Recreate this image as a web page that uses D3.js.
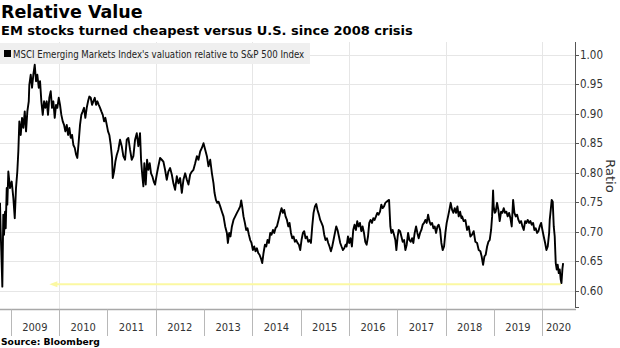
<!DOCTYPE html>
<html><head><meta charset="utf-8">
<script src="https://cdn.jsdelivr.net/npm/d3@7"></script>
<style>html,body{margin:0;padding:0;background:#fff}svg{display:block}</style>
</head><body>
<svg id="chart" width="620" height="348"></svg>
<script>
// ---------- text ----------
const titleText = "Relative Value";
const subtitleText = "EM stocks turned cheapest versus U.S. since 2008 crisis";
const seriesName = "MSCI Emerging Markets Index's valuation relative to S&P 500 Index";
const sourceText = "Source: Bloomberg";
const axisTitle = "Ratio";

// ---------- axes ----------
const yTicks = [0.60, 0.65, 0.70, 0.75, 0.80, 0.85, 0.90, 0.95, 1.00];
const yearLabels = [2009, 2010, 2011, 2012, 2013, 2014, 2015, 2016, 2017, 2018, 2019, 2020];
const gridYears = [2010, 2012, 2014, 2016, 2018, 2020];
const xDomain = [2008.778, 2020.68];
const yDomain = [0.5725, 1.0215];

// ---------- series (decimal year, ratio) ----------
const dates = [
2008.778,2008.792,2008.805,2008.826,2008.846,2008.861,2008.882,2008.896,2008.917,2008.929,2008.950,2008.985,
2009.020,2009.054,2009.083,2009.109,2009.136,2009.157,2009.178,2009.207,2009.234,2009.261,2009.290,2009.317,2009.344,2009.373,2009.385,2009.414,2009.441,2009.468,2009.497,2009.524,2009.551,2009.580,2009.607,2009.634,2009.663,2009.690,2009.716,2009.745,2009.772,2009.799,2009.828,2009.855,2009.882,2009.911,2009.938,2009.965,2009.994,
2010.021,2010.048,2010.077,2010.104,2010.131,2010.160,2010.187,2010.214,2010.243,2010.270,2010.297,2010.326,2010.352,2010.379,2010.408,2010.435,2010.462,2010.491,2010.518,2010.545,2010.574,2010.601,2010.628,2010.657,2010.684,2010.711,2010.740,2010.767,2010.794,2010.823,2010.850,2010.877,2010.906,2010.933,2010.960,2010.989,
2011.015,2011.042,2011.071,2011.098,2011.113,2011.140,2011.167,2011.196,2011.229,2011.264,2011.299,2011.332,2011.368,2011.403,2011.436,2011.471,2011.506,2011.540,2011.575,2011.610,2011.643,2011.678,2011.699,2011.726,2011.747,2011.767,2011.796,2011.823,2011.850,2011.879,2011.906,2011.933,2011.962,2011.989,
2012.024,2012.057,2012.093,2012.128,2012.161,2012.196,2012.231,2012.264,2012.300,2012.335,2012.368,2012.403,2012.438,2012.472,2012.507,2012.542,2012.575,2012.611,2012.646,2012.679,2012.714,2012.749,2012.782,2012.818,2012.853,2012.886,2012.921,2012.956,2012.990,
2013.025,2013.060,2013.093,2013.129,2013.164,2013.197,2013.218,2013.247,2013.274,2013.301,2013.336,2013.371,2013.404,2013.439,2013.474,2013.495,2013.522,2013.549,2013.578,2013.611,2013.647,2013.682,2013.715,2013.750,2013.771,2013.791,2013.818,2013.847,2013.874,2013.901,2013.930,2013.957,2013.984,
2014.013,2014.040,2014.067,2014.096,2014.123,2014.150,2014.179,2014.206,2014.233,2014.262,2014.289,2014.316,2014.345,2014.372,2014.399,2014.428,2014.455,2014.481,2014.510,2014.544,2014.579,2014.606,2014.635,2014.662,2014.689,2014.718,2014.745,2014.772,2014.801,2014.828,2014.855,2014.883,2014.910,2014.937,2014.966,2014.993,
2015.020,2015.049,2015.076,2015.103,2015.132,2015.159,2015.186,2015.215,2015.242,2015.269,2015.298,2015.325,2015.351,2015.380,2015.407,2015.434,2015.463,2015.490,2015.517,2015.546,2015.573,2015.600,2015.629,2015.656,2015.683,2015.712,2015.739,2015.766,2015.795,2015.822,2015.849,2015.878,2015.905,2015.932,2015.953,2015.982,
2016.008,2016.035,2016.064,2016.091,2016.118,2016.147,2016.174,2016.201,2016.230,2016.257,2016.284,2016.313,2016.340,2016.367,2016.396,2016.422,2016.449,2016.478,2016.505,2016.532,2016.561,2016.588,2016.615,2016.644,2016.671,2016.698,2016.727,2016.754,2016.781,2016.810,2016.831,2016.858,2016.878,2016.905,2016.934,2016.961,2016.982,
2017.009,2017.030,2017.059,2017.086,2017.113,2017.142,2017.169,2017.196,2017.225,2017.251,2017.278,2017.307,2017.334,2017.361,2017.390,2017.417,2017.444,2017.473,2017.500,2017.527,2017.556,2017.583,2017.610,2017.639,2017.666,2017.693,2017.722,2017.749,2017.776,2017.805,2017.832,2017.859,2017.888,2017.914,2017.941,2017.970,2017.997,
2018.024,2018.053,2018.080,2018.107,2018.136,2018.163,2018.190,2018.219,2018.246,2018.273,2018.302,2018.329,2018.343,2018.376,2018.411,2018.447,2018.480,2018.515,2018.550,2018.583,2018.618,2018.654,2018.687,2018.722,2018.749,2018.778,2018.805,2018.832,2018.861,2018.888,2018.915,2018.944,2018.965,2018.985,2018.998,
2019.019,2019.039,2019.068,2019.095,2019.122,2019.151,2019.178,2019.205,2019.234,2019.261,2019.288,2019.317,2019.344,2019.371,2019.400,2019.427,2019.454,2019.483,2019.510,2019.537,2019.566,2019.593,2019.620,2019.649,2019.675,2019.702,2019.731,2019.758,2019.785,2019.814,2019.841,2019.868,2019.897,2019.924,2019.951,2019.980,
2020.007,2020.034,2020.063,2020.090,2020.117,2020.146,2020.158,2020.179,2020.199,2020.220,2020.241,2020.261,2020.282,2020.303,2020.323,2020.344,2020.365,2020.385,2020.400,2020.421,2020.435
];
const ratio = [
0.749,0.700,0.667,0.607,0.729,0.695,0.734,0.706,0.774,0.746,0.802,0.774,
0.785,0.757,0.723,0.774,0.802,0.836,0.887,0.864,0.893,0.876,0.904,0.870,0.904,0.921,0.949,0.966,0.944,0.966,0.983,0.955,0.966,0.944,0.955,0.921,0.898,0.921,0.910,0.921,0.898,0.927,0.938,0.910,0.921,0.893,0.915,0.910,0.927,
0.915,0.898,0.887,0.881,0.870,0.881,0.864,0.876,0.859,0.864,0.847,0.842,0.831,0.825,0.853,0.881,0.898,0.904,0.910,0.893,0.910,0.921,0.929,0.927,0.915,0.921,0.927,0.915,0.921,0.915,0.910,0.904,0.898,0.887,0.893,0.881,
0.870,0.864,0.847,0.825,0.791,0.802,0.819,0.830,0.839,0.856,0.845,0.828,0.822,0.856,0.859,0.839,0.822,0.828,0.856,0.867,0.845,0.867,0.822,0.794,0.777,0.816,0.780,0.822,0.805,0.816,0.799,0.794,0.785,0.780,
0.797,0.811,0.825,0.822,0.819,0.805,0.788,0.802,0.808,0.797,0.782,0.771,0.794,0.782,0.791,0.766,0.788,0.799,0.788,0.780,0.797,0.802,0.805,0.816,0.828,0.822,0.836,0.842,0.850,
0.839,0.828,0.811,0.822,0.799,0.782,0.766,0.754,0.749,0.751,0.743,0.734,0.726,0.709,0.698,0.681,0.698,0.692,0.709,0.720,0.726,0.732,0.737,0.743,0.753,0.743,0.726,0.715,0.703,0.706,0.695,0.686,0.681,
0.669,0.675,0.667,0.672,0.664,0.661,0.655,0.647,0.664,0.678,0.675,0.686,0.681,0.698,0.695,0.703,0.698,0.706,0.709,0.720,0.732,0.740,0.732,0.737,0.726,0.720,0.709,0.715,0.698,0.689,0.692,0.683,0.686,0.681,0.678,0.669,
0.686,0.698,0.701,0.689,0.692,0.683,0.686,0.681,0.709,0.732,0.743,0.747,0.737,0.729,0.720,0.715,0.709,0.695,0.686,0.689,0.681,0.675,0.667,0.675,0.686,0.698,0.709,0.703,0.692,0.681,0.675,0.669,0.672,0.678,0.675,0.692,
0.681,0.689,0.675,0.703,0.712,0.703,0.718,0.709,0.715,0.701,0.709,0.698,0.683,0.678,0.692,0.715,0.720,0.715,0.723,0.720,0.726,0.732,0.729,0.734,0.746,0.740,0.743,0.749,0.751,0.753,0.754,0.709,0.698,0.703,0.695,0.686,0.669,
0.692,0.703,0.701,0.692,0.683,0.686,0.669,0.678,0.698,0.686,0.683,0.689,0.681,0.698,0.709,0.698,0.689,0.698,0.703,0.712,0.715,0.720,0.715,0.729,0.718,0.712,0.715,0.706,0.709,0.698,0.709,0.712,0.703,0.681,0.669,0.675,0.698,
0.715,0.726,0.737,0.749,0.737,0.732,0.740,0.732,0.743,0.726,0.734,0.723,0.726,0.718,0.720,0.703,0.709,0.692,0.695,0.701,0.683,0.681,0.669,0.667,0.658,0.644,0.658,0.661,0.675,0.683,0.686,0.703,0.726,0.770,0.743,
0.732,0.734,0.749,0.737,0.718,0.734,0.732,0.740,0.732,0.734,0.726,0.732,0.723,0.709,0.754,0.732,0.726,0.729,0.720,0.715,0.718,0.709,0.703,0.718,0.715,0.720,0.715,0.718,0.712,0.715,0.703,0.706,0.698,0.701,0.709,0.715,
0.703,0.692,0.681,0.669,0.675,0.698,0.720,0.737,0.754,0.751,0.709,0.692,0.647,0.636,0.644,0.630,0.636,0.619,0.613,0.638,0.647
];

// ---------- annotation (arrow back to 2008-crisis level) ----------
const arrowValue = 0.611;
const arrowFrom = 2020.39;
const arrowTo = 2009.80;

// ---------- helpers ----------
function decToDate(d) {
  const yr = Math.floor(d);
  const s = Date.UTC(yr, 0, 1), e = Date.UTC(yr + 1, 0, 1);
  return new Date(s + (d - yr) * (e - s));
}
const yearDate = y => new Date(Date.UTC(y, 0, 1));

const plot = {left: 0, right: 575, top: 42, bottom: 307};
const axisY = 309.5;

const svg = d3.select("#chart");
const x = d3.scaleUtc().domain(xDomain.map(decToDate)).range([plot.left, plot.right]);
const y = d3.scaleLinear().domain(yDomain).range([plot.bottom, plot.top]);

const n = Math.min(dates.length, ratio.length);
const data = d3.range(n).map(i => ({date: decToDate(dates[i]), v: ratio[i]}));

const FONT = "'DejaVu Sans', Verdana, sans-serif";
const FONTC = "'DejaVu Sans Condensed', 'DejaVu Sans', sans-serif";

// gridlines
const grid = svg.append("g");
grid.selectAll("line.h").data(yTicks).join("line")
  .attr("x1", plot.left).attr("x2", plot.right)
  .attr("y1", d => Math.round(y(d)) + 0.5).attr("y2", d => Math.round(y(d)) + 0.5)
  .attr("stroke", "#e6e6e6").attr("stroke-width", 1);
grid.selectAll("line.v").data(gridYears).join("line")
  .attr("x1", d => Math.round(x(yearDate(d))) + 0.5).attr("x2", d => Math.round(x(yearDate(d))) + 0.5)
  .attr("y1", plot.top).attr("y2", axisY)
  .attr("stroke", "#e6e6e6").attr("stroke-width", 1);

// legend box
svg.append("rect").attr("x", 0).attr("y", 43).attr("width", 310).attr("height", 21).attr("fill", "#efefef");
svg.append("rect").attr("x", 4).attr("y", 50).attr("width", 7).attr("height", 7).attr("fill", "#000");
svg.append("text").attr("x", 13).attr("y", 57.5)
  .attr("font-family", FONTC).attr("font-size", 9.6).attr("fill", "#222")
  .text(seriesName);

// arrow annotation
const ay = y(arrowValue);
svg.append("line")
  .attr("x1", x(decToDate(arrowFrom))).attr("x2", x(decToDate(arrowTo)) + 6)
  .attr("y1", ay).attr("y2", ay)
  .attr("stroke", "#fbf8a2").attr("stroke-width", 2);
const ax = x(decToDate(arrowTo));
svg.append("path")
  .attr("d", `M${ax},${ay} L${ax + 8},${ay - 3} L${ax + 8},${ay + 3} Z`)
  .attr("fill", "#fbf8a2");

// series line
svg.append("path").datum(data)
  .attr("fill", "none").attr("stroke", "#000").attr("stroke-width", 1.9)
  .attr("stroke-linejoin", "round")
  .attr("d", d3.line().x(d => x(d.date)).y(d => y(d.v)));

// bottom axis
svg.append("line").attr("x1", 0).attr("x2", plot.right + 1).attr("y1", axisY).attr("y2", axisY)
  .attr("stroke", "#a8a8a8").attr("stroke-width", 1.3);
svg.selectAll("line.yt").data(yearLabels).join("line")
  .attr("x1", d => Math.round(x(yearDate(d))) + 0.5).attr("x2", d => Math.round(x(yearDate(d))) + 0.5)
  .attr("y1", axisY).attr("y2", 336)
  .attr("stroke", "#b8b8b8").attr("stroke-width", 1);
svg.selectAll("text.yl").data(yearLabels).join("text")
  .attr("x", d => {
    const a = Math.max(x(yearDate(d)), plot.left), b = Math.min(x(yearDate(d + 1)), plot.right);
    return (a + b) / 2;
  })
  .attr("y", 331).attr("text-anchor", "middle")
  .attr("font-family", FONTC).attr("font-size", 11).attr("fill", "#333")
  .text(d => d);

// right axis
const ra = svg.append("g");
ra.append("line").attr("x1", plot.right + 0.5).attr("x2", plot.right + 0.5)
  .attr("y1", plot.top).attr("y2", plot.bottom)
  .attr("stroke", "#555").attr("stroke-width", 1);
ra.selectAll("line.t").data(yTicks.concat([yDomain[0]])).join("line")
  .attr("x1", plot.right).attr("x2", plot.right + 4)
  .attr("y1", d => Math.round(y(d)) + 0.5).attr("y2", d => Math.round(y(d)) + 0.5)
  .attr("stroke", "#555");
ra.selectAll("text").data(yTicks).join("text")
  .attr("x", plot.right + 5).attr("y", d => y(d)).attr("dy", "0.36em")
  .attr("font-family", FONTC).attr("font-size", 11.5).attr("fill", "#333")
  .text(d => d3.format(".2f")(d));

svg.append("text")
  .attr("transform", `translate(606,176) rotate(90)`)
  .attr("text-anchor", "middle")
  .attr("font-family", FONT).attr("font-size", 13).attr("fill", "#333")
  .text(axisTitle);

// titles
svg.append("text").attr("x", 1).attr("y", 18)
  .attr("font-family", FONT).attr("font-weight", "bold").attr("font-size", 17.5).attr("fill", "#000")
  .text(titleText);
svg.append("text").attr("x", 1).attr("y", 35)
  .attr("font-family", FONT).attr("font-weight", "bold").attr("font-size", 13).attr("fill", "#000")
  .text(subtitleText);
svg.append("text").attr("x", 1).attr("y", 345)
  .attr("font-family", FONT).attr("font-weight", "bold").attr("font-size", 9.2).attr("fill", "#000")
  .text(sourceText);
</script>
</body></html>
